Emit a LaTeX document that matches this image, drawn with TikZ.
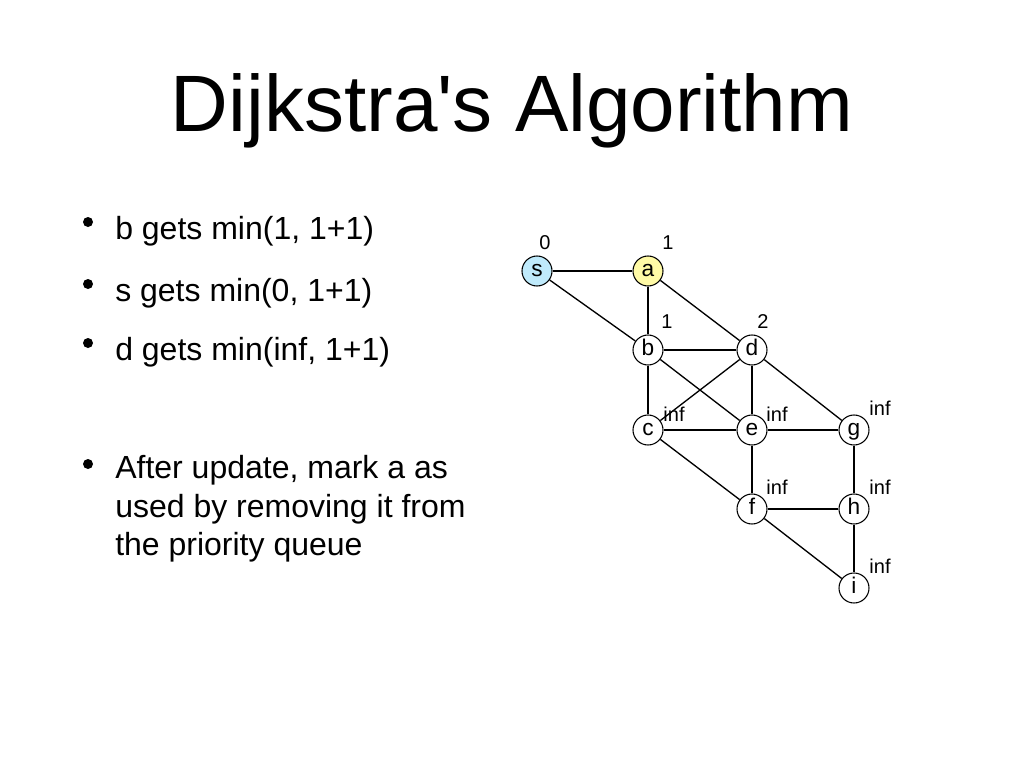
\documentclass[tikz,border=0pt]{standalone}
\usepackage{fontspec}
\usetikzlibrary{shapes.geometric}
\setmainfont{Liberation Sans}
\begin{document}
\begin{tikzpicture}[x=0.75pt,y=-0.75pt,
  vtx/.style={circle,draw,line width=0.8pt,minimum size=22.5pt,inner sep=0pt,text height=8.8pt,text depth=0pt,font=\fontsize{17}{17}\selectfont},
  lbl/.style={font=\fontsize{15}{15}\selectfont,inner sep=0pt},
  edge/.style={line width=1pt},
  bul/.style={circle,fill=black,inner sep=0pt,minimum size=7.5pt},
  btxt/.style={anchor=west,inner sep=0pt,font=\fontsize{24}{29}\selectfont,align=left}]
\useasboundingbox (0,0) rectangle (1024,768);
\node[font=\fontsize{60}{60}\selectfont,inner sep=0pt] (title) at (512,111) {Dijkstra\textquotesingle s Algorithm};
% bullets
\node[bul] (b1) at (88,222) {};
\node[btxt] (t1) at (115,231) {b gets min(1, 1+1)};
\node[bul] (b2) at (88,284) {};
\node[btxt] (t2) at (115,293) {s gets min(0, 1+1)};
\node[bul] (b3) at (88,343) {};
\node[btxt] (t3) at (115,352) {d gets min(inf, 1+1)};
\node[bul] (b4) at (88,464) {};
\node[btxt,anchor=north west] (t4) at (115,455) {After update, mark a as\\used by removing it from\\the priority queue};
% graph
\node[vtx,fill=cyan!25] (s) at (537,271) {s};
\node[vtx,fill=yellow!35] (a) at (648,271) {a};
\node[vtx] (b) at (648,350) {b};
\node[vtx] (d) at (752,350) {d};
\node[vtx] (c) at (648,430) {c};
\node[vtx] (e) at (752,430) {e};
\node[vtx] (g) at (854,430) {g};
\node[vtx] (f) at (752,509) {f};
\node[vtx] (h) at (854,509) {h};
\node[vtx] (i) at (854,588) {i};
\foreach \u/\v in {s/a,s/b,a/b,a/d,b/d,b/c,b/e,d/c,d/e,d/g,c/e,e/g,c/f,e/f,g/h,f/h,f/i,h/i}
  \draw[edge] (\u) -- (\v);
\node[lbl] (ls) at (545,243) {0};
\node[lbl] (la) at (668,243) {1};
\node[lbl] (lb) at (667,322) {1};
\node[lbl] (ld) at (763,322) {2};
\node[lbl] (lc) at (674,414) {inf};
\node[lbl] (le) at (777,414) {inf};
\node[lbl] (lg) at (880,408) {inf};
\node[lbl] (lf) at (777,487) {inf};
\node[lbl] (lh) at (880,487) {inf};
\node[lbl] (li) at (880,566) {inf};
\end{tikzpicture}
\end{document}
